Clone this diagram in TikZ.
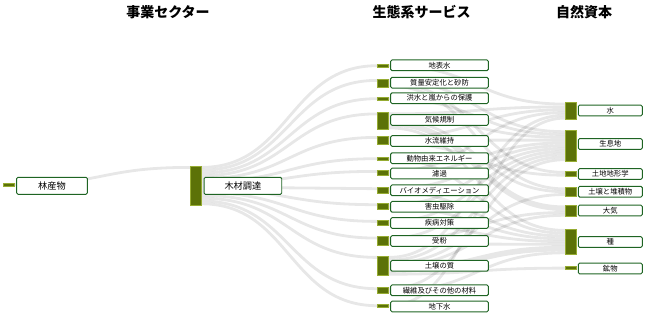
\documentclass[tikz,border=0pt]{standalone}
\usepackage{fontspec}
\setmainfont{Noto Sans CJK JP}
\usetikzlibrary{calc}
\definecolor{barfill}{RGB}{92,114,8}
\definecolor{barline}{RGB}{150,172,50}
\definecolor{boxline}{RGB}{30,100,35}
% link: source bar, source offset (units), target bar, target offset (units), value (units)
\newcommand\sklink[5]{\draw[linksty, line width={#5*2.1pt}] ($(#1.north east)+(0,{(#2+#5/2)*2.8})$) .. controls +(88,0) and +(-88,0) .. ($(#3.north west)+(0,{(#4+#5/2)*2.8})$);}
\tikzset{
  linksty/.style={draw=black, draw opacity=0.095},
  barsty/.style={draw=barline, fill=barfill, line width=0.35pt, inner sep=0pt, outer sep=0pt, anchor=north west, minimum width=11.5*0.75pt},
  lblsty/.style={draw=boxline, fill=white, rounded corners=1pt, line width=0.7pt, inner sep=0pt, font=\fontsize{5.5}{6}\selectfont, minimum height=10.7*0.75pt},
  svcbox/.style={lblsty, minimum width=97.6*0.75pt},
  capbox/.style={lblsty, minimum width=64*0.75pt},
  bigbox/.style={lblsty, minimum height=17*0.75pt, font=\fontsize{6.9}{8}\selectfont},
  headsty/.style={font=\fontsize{10.5}{12}\selectfont\bfseries, inner sep=0pt}
}
\begin{document}
\begin{tikzpicture}[x=0.75pt, y=-0.75pt]
\useasboundingbox (0,0) rectangle (645,317);
% headers
\node[headsty] (h1) at (168,12.5) {事業セクター};
\node[headsty] (h2) at (421.5,12.5) {生態系サービス};
\node[headsty] (h3) at (584,12.5) {自然資本};
% bars (drawn as coordinates first for links)
\node[barsty, minimum height={1*2.1pt}] (bA) at (3,183.3) {};
\node[barsty, minimum height={14*2.1pt}] (bB) at (190,166) {};
\node[barsty, minimum height={1*2.1pt}] (bS1) at (377,64.3) {};
\node[barsty, minimum height={3*2.1pt}] (bS2) at (377,79) {};
\node[barsty, minimum height={1*2.1pt}] (bS3) at (377,97.3) {};
\node[barsty, minimum height={6*2.1pt}] (bS4) at (377,112.5) {};
\node[barsty, minimum height={3*2.1pt}] (bS5) at (377,136) {};
\node[barsty, minimum height={1*2.1pt}] (bS6) at (377,157.3) {};
\node[barsty, minimum height={2*2.1pt}] (bS7) at (377,170) {};
\node[barsty, minimum height={2*2.1pt}] (bS8) at (377,187.3) {};
\node[barsty, minimum height={2*2.1pt}] (bS9) at (377,203.3) {};
\node[barsty, minimum height={2*2.1pt}] (bS10) at (377,220) {};
\node[barsty, minimum height={3*2.1pt}] (bS11) at (377,236.7) {};
\node[barsty, minimum height={7*2.1pt}] (bS12) at (377,256) {};
\node[barsty, minimum height={2*2.1pt}] (bS13) at (377,287.3) {};
\node[barsty, minimum height={1*2.1pt}] (bS14) at (377,304.3) {};
\node[barsty, minimum height={6*2.1pt}] (bC1) at (565,102.7) {};
\node[barsty, minimum height={11*2.1pt}] (bC2) at (565,130.3) {};
\node[barsty, minimum height={2*2.1pt}] (bC3) at (565,171) {};
\node[barsty, minimum height={3*2.1pt}] (bC4) at (565,187.5) {};
\node[barsty, minimum height={4*2.1pt}] (bC5) at (565,205.5) {};
\node[barsty, minimum height={9*2.1pt}] (bC6) at (565,229) {};
\node[barsty, minimum height={1*2.1pt}] (bC7) at (565,266.7) {};
% links (behind bars and boxes)
\begin{scope}[on background layer/.style={}]
\sklink{bA}{0}{bB}{0}{1}
\sklink{bB}{0}{bS1}{0}{1}
\sklink{bB}{1}{bS2}{0}{1}
\sklink{bB}{2}{bS3}{0}{1}
\sklink{bB}{3}{bS4}{0}{1}
\sklink{bB}{4}{bS5}{0}{1}
\sklink{bB}{5}{bS6}{0}{1}
\sklink{bB}{6}{bS7}{0}{1}
\sklink{bB}{7}{bS8}{0}{1}
\sklink{bB}{8}{bS9}{0}{1}
\sklink{bB}{9}{bS10}{0}{1}
\sklink{bB}{10}{bS11}{0}{1}
\sklink{bB}{11}{bS12}{0}{1}
\sklink{bB}{12}{bS13}{0}{1}
\sklink{bB}{13}{bS14}{0}{1}
\sklink{bS1}{0}{bC1}{0}{1}
\sklink{bS2}{0}{bC2}{0}{1}
\sklink{bS2}{1}{bC3}{0}{1}
\sklink{bS2}{2}{bC4}{0}{1}
\sklink{bS3}{0}{bC2}{1}{1}
\sklink{bS4}{0}{bC1}{1}{1}
\sklink{bS4}{1}{bC2}{2}{1}
\sklink{bS4}{2}{bC4}{1}{1}
\sklink{bS4}{3}{bC5}{0}{2}
\sklink{bS4}{5}{bC6}{0}{1}
\sklink{bS5}{0}{bC1}{2}{1}
\sklink{bS5}{1}{bC2}{3}{1}
\sklink{bS5}{2}{bC3}{1}{1}
\sklink{bS6}{0}{bC6}{1}{1}
\sklink{bS7}{0}{bC1}{3}{1}
\sklink{bS7}{1}{bC2}{4}{1}
\sklink{bS8}{0}{bC2}{5}{1}
\sklink{bS8}{1}{bC6}{2}{1}
\sklink{bS9}{0}{bC2}{6}{1}
\sklink{bS9}{1}{bC6}{3}{1}
\sklink{bS10}{0}{bC2}{7}{1}
\sklink{bS10}{1}{bC6}{4}{1}
\sklink{bS11}{0}{bC2}{8}{1}
\sklink{bS11}{1}{bC5}{2}{1}
\sklink{bS11}{2}{bC6}{5}{1}
\sklink{bS12}{0}{bC1}{4}{1}
\sklink{bS12}{1}{bC2}{9}{1}
\sklink{bS12}{2}{bC4}{2}{1}
\sklink{bS12}{3}{bC5}{3}{1}
\sklink{bS12}{4}{bC6}{6}{2}
\sklink{bS12}{6}{bC7}{0}{1}
\sklink{bS13}{0}{bC2}{10}{1}
\sklink{bS13}{1}{bC6}{8}{1}
\sklink{bS14}{0}{bC1}{5}{1}
\end{scope}
% redraw bars on top of links
\foreach \b in {bA,bB,bS1,bS2,bS3,bS4,bS5,bS6,bS7,bS8,bS9,bS10,bS11,bS12,bS13,bS14,bC1,bC2,bC3,bC4,bC5,bC6,bC7}
  \draw[draw=barline, fill=barfill, line width=0.35pt] (\b.north west) rectangle (\b.south east);
% label boxes
\node[bigbox, minimum width=70.6*0.75pt] (tA) at (52,185.8) {林産物};
\node[bigbox, minimum width=77.7*0.75pt] (tB) at (242.9,185.8) {木材調達};
\node[svcbox] (tS1) at (439.5,65.3) {地表水};
\node[svcbox] (tS2) at (439.5,82.7) {質量安定化と砂防};
\node[svcbox] (tS3) at (439.5,98.2) {洪水と嵐からの保護};
\node[svcbox] (tS4) at (439.5,120) {気候規制};
\node[svcbox] (tS5) at (439.5,141) {水流維持};
\node[svcbox] (tS6) at (439.5,158.2) {動物由来エネルギー};
\node[svcbox] (tS7) at (439.5,173.5) {濾過};
\node[svcbox] (tS8) at (439.5,190.3) {バイオメディエーション};
\node[svcbox] (tS9) at (439.5,206.8) {害虫駆除};
\node[svcbox] (tS10) at (439.5,223) {疾病対策};
\node[svcbox] (tS11) at (439.5,241) {受粉};
\node[svcbox] (tS12) at (439.5,265.8) {土壌の質};
\node[svcbox] (tS13) at (439.5,290.3) {繊維及びその他の材料};
\node[svcbox] (tS14) at (439.5,306.5) {地下水};
\node[capbox] (tC1) at (610.3,110.5) {水};
\node[capbox] (tC2) at (610.3,144) {生息地};
\node[capbox] (tC3) at (610.3,174) {土地地形学};
\node[capbox] (tC4) at (610.3,191.7) {土壌と堆積物};
\node[capbox] (tC5) at (610.3,210.5) {大気};
\node[capbox] (tC6) at (610.3,242) {種};
\node[capbox] (tC7) at (610.3,268.5) {鉱物};
\end{tikzpicture}
\end{document}
